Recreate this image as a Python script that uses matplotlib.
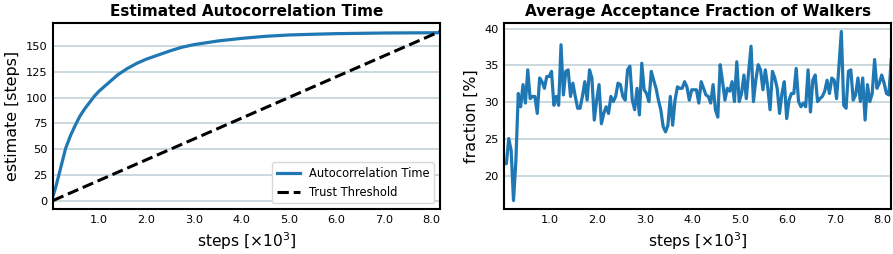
import numpy as np
import matplotlib
matplotlib.use("Agg")
import matplotlib.pyplot as plt
from matplotlib.ticker import FormatStrFormatter, MultipleLocator

BLUE = "#1f77b4"
GRID = "#cbd8df"

# autocorrelation time estimate (x in 10^3 steps)
tau_steps = [0.035, 0.1, 0.2, 0.3, 0.4, 0.5, 0.6, 0.7, 0.8, 0.9, 1.0, 1.1, 1.2,
             1.4, 1.6, 1.8, 2.0, 2.25, 2.5, 2.75, 3.0, 3.5, 4.0, 4.5, 5.0,
             5.5, 6.0, 7.0, 8.185]
tau_vals = [5, 15, 33, 51, 63, 73, 82, 89, 95, 101, 106, 110, 114,
            122, 128, 133, 137, 141, 145, 148.5, 151, 154.5, 157, 159, 160.3,
            161, 161.6, 162.2, 162.5]

# trust threshold (N / 50)
thresh_steps = [0.035, 8.185]
thresh_vals = [0.7, 163.7]

# mean acceptance fraction [%], one value every 50 steps
acc_start, acc_step = 0.035, 0.05
acc_vals = [
    21.7, 21.7, 25.1, 23.5, 16.7, 22.1, 31.2, 29.4, 32.4, 29.9,
    34.4, 30.5, 30.8, 30.8, 28.5, 33.3, 32.8, 31.9, 33.5, 33.5,
    34.2, 29.6, 30.8, 29.6, 37.8, 31.0, 34.2, 34.4, 30.8, 32.6,
    30.8, 29.2, 29.2, 30.8, 32.8, 30.3, 34.4, 33.3, 27.6, 30.3,
    32.4, 27.1, 28.5, 29.4, 28.5, 30.8, 30.1, 30.8, 32.6, 32.4,
    30.8, 30.3, 34.4, 34.9, 30.3, 29.0, 31.9, 28.3, 35.3, 31.7,
    31.2, 30.1, 34.2, 33.0, 31.9, 30.3, 29.0, 26.7, 26.0, 26.9,
    30.8, 26.9, 30.3, 32.1, 31.9, 31.9, 32.8, 32.1, 30.3, 31.7,
    31.7, 31.7, 29.9, 32.8, 31.9, 31.0, 30.8, 29.9, 32.4, 29.0,
    28.0, 35.1, 32.8, 30.3, 31.9, 31.5, 32.8, 30.1, 35.5, 30.1,
    31.2, 33.7, 30.5, 34.2, 37.6, 30.1, 33.0, 35.1, 34.4, 31.7,
    34.4, 32.1, 29.0, 34.2, 33.3, 31.9, 28.5, 31.2, 32.8, 27.8,
    30.3, 31.2, 31.2, 34.6, 30.1, 29.4, 29.9, 29.4, 34.4, 28.7,
    33.0, 33.7, 30.1, 30.5, 30.8, 31.5, 33.0, 31.2, 33.3, 33.0,
    30.5, 34.9, 39.6, 29.6, 29.2, 34.2, 34.4, 30.3, 31.0, 33.3,
    30.1, 33.3, 27.6, 32.4, 30.1, 31.2, 35.8, 31.9, 32.6, 33.7,
    32.6, 31.2, 31.0, 35.8,
]
acc_steps = acc_start + acc_step * np.arange(len(acc_vals))

XLABEL = "steps [×10$^3$]"


def style_ax(ax, title, ylabel, ystep):
    ax.set_title(title, fontsize=11, fontweight="bold", pad=5)
    ax.set_xlabel(XLABEL, fontsize=11.2, labelpad=4)
    ax.set_ylabel(ylabel, fontsize=11.4, labelpad=4)
    ax.xaxis.set_major_locator(MultipleLocator(1.0))
    ax.xaxis.set_major_formatter(FormatStrFormatter("%.1f"))
    ax.yaxis.set_major_locator(MultipleLocator(ystep))
    ax.tick_params(length=0, labelsize=8.2, pad=4)
    ax.grid(True, axis="y", color=GRID, lw=1.4)
    ax.set_axisbelow(True)
    for sp in ax.spines.values():
        sp.set_linewidth(1.5)
        sp.set_color("black")


fig = plt.figure(figsize=(8.93, 2.54), dpi=100)
ax1 = fig.add_axes([0.0594, 0.1772, 0.4333, 0.7322])
ax2 = fig.add_axes([0.5644, 0.1772, 0.4336, 0.7322])

ax1.plot(tau_steps, tau_vals, color=BLUE, lw=2.3, label="Autocorrelation Time")
ax1.plot(thresh_steps, thresh_vals, color="black", lw=2.2, ls="--",
         label="Trust Threshold")
ax1.set_xlim(tau_steps[0], tau_steps[-1])
style_ax(ax1, "Estimated Autocorrelation Time", "estimate [steps]", 25)
ax1.legend(loc="lower right", fontsize=8.3, framealpha=1,
           edgecolor="#d9d9d9", handlelength=2.0)

ax2.plot(acc_steps, acc_vals, color=BLUE, lw=2.3)
ax2.set_xlim(acc_steps[0], acc_steps[-1])
style_ax(ax2, "Average Acceptance Fraction of Walkers", "fraction [%]", 5)

fig.savefig("out.png", dpi=100)
